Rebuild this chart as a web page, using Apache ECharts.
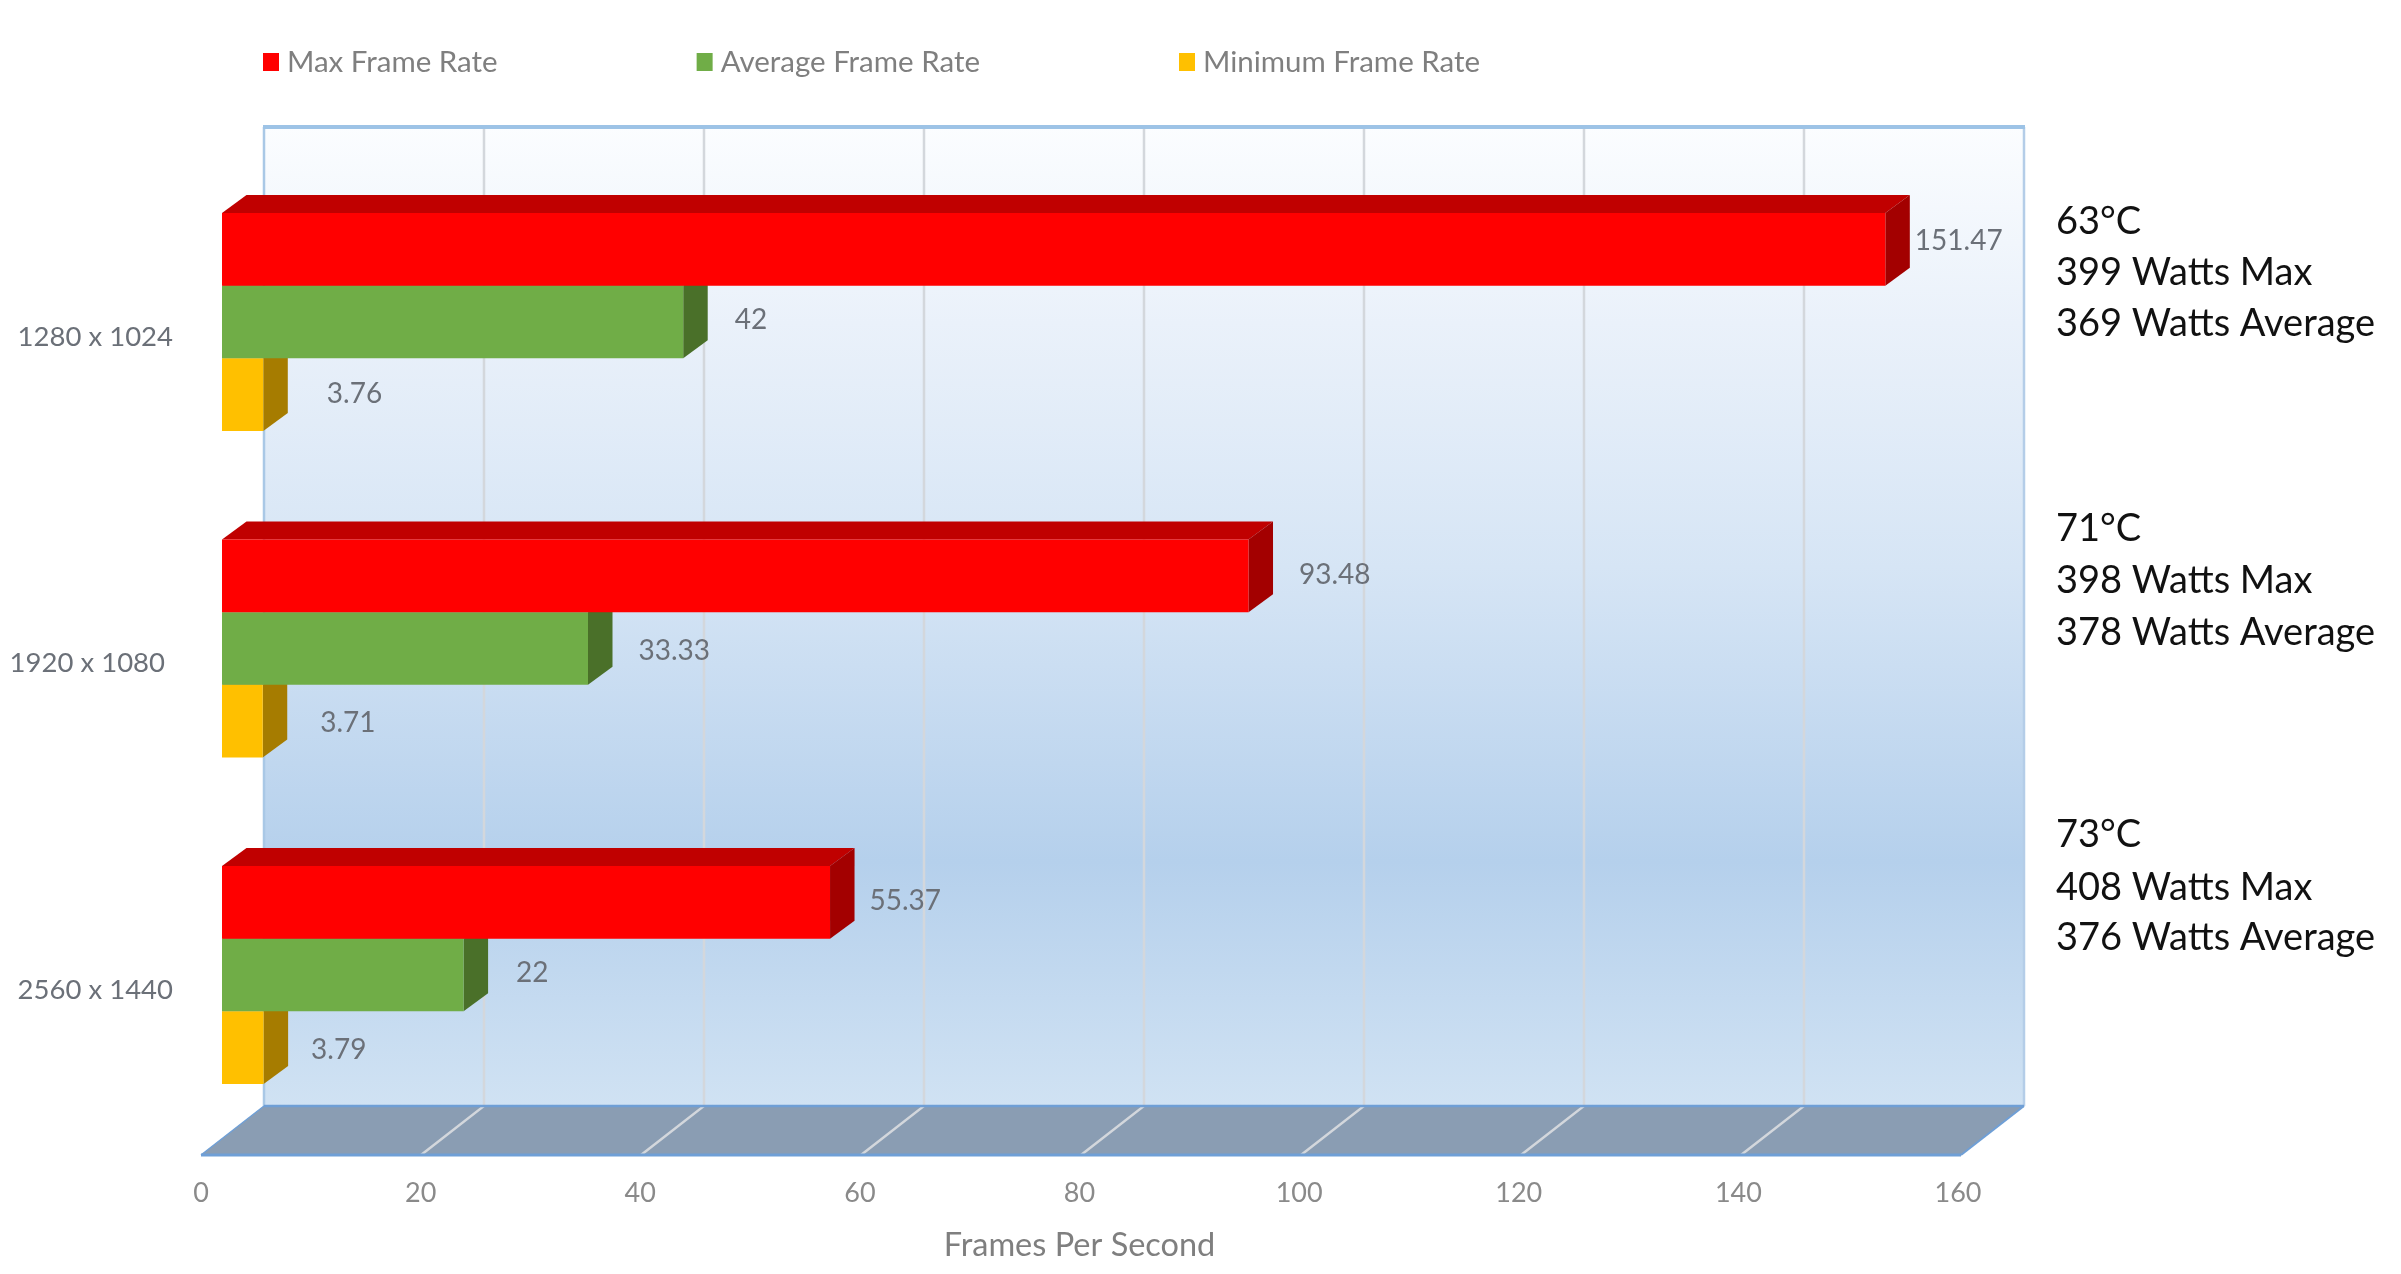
<!DOCTYPE html>
<html>
<head>
<meta charset="utf-8">
<style>html,body{margin:0;padding:0;background:#fff}#c{width:2401px;height:1274px;filter:blur(0.6px)}</style>
<script src="https://cdn.jsdelivr.net/npm/echarts@6/dist/echarts.min.js"></script>
</head>
<body>
<div id="c"></div>
<script>
const categories = ['1280 x 1024', '1920 x 1080', '2560 x 1440'];
const maxFrameRate = [151.47, 93.48, 55.37];
const averageFrameRate = [42, 33.33, 22];
const minimumFrameRate = [3.76, 3.71, 3.79];
const axisTicks = [0, 20, 40, 60, 80, 100, 120, 140, 160];
const notes = [
  ['63°C', '399 Watts Max', '369 Watts Average'],
  ['71°C', '398 Watts Max', '378 Watts Average'],
  ['73°C', '408 Watts Max', '376 Watts Average']
];

// layout (pixels)
const FONT = 'Lato, "Open Sans", sans-serif';
const G = { left: 201, width: 1757, top: 175.5, bottom: 1155 };
const FLOOR = { right: 1961, dx: 63, dy: 49, wallTop: 127 };
const BAR = { planeX: 21, dx: 24.5, dy: 18, shiftY: -16.75, ratio: 0.2227 };
const noteY = [[222, 273, 324], [529, 581, 633], [835, 888, 938]];
// label placement beside each bar: gap from the bar's side, shift from its centre
const labelGap = {
  max: [[5, -8], [26, -1], [15, -1]],
  avg: [[27, -2], [26, 2], [28, -2]],
  min: [[39, -1], [33, 2], [23, 2]]
};

const C = {
  max: { f: '#ff0000', s: '#a30000', t: '#c00000' },
  avg: { f: '#70ad47', s: '#4a7029', t: '#548235' },
  min: { f: '#ffc000', s: '#a67c00', t: '#bf9000' }
};

function barSeries(name, values, key, slot, z) {
  const col = C[key];
  return {
    type: 'custom', name, z,
    coordinateSystem: 'cartesian2d',
    itemStyle: { color: col.f },
    clip: false,
    encode: { x: 0, y: 1 },
    data: values.map((v, i) => [v, i]),
    renderItem(params, api) {
      const idx = api.value(1);
      const zero = api.coord([0, idx]);
      const end = api.coord([api.value(0), idx]);
      const h = api.size([0, 1])[1] * BAR.ratio;
      const x0 = zero[0] + BAR.planeX;
      const x1 = end[0] + BAR.planeX;
      const y0 = zero[1] + BAR.shiftY + (slot - 1.5) * h;
      const y1 = y0 + h;
      const g = labelGap[key][idx];
      return {
        type: 'group',
        children: [
          { type: 'polygon', shape: { points: [[x0, y0], [x0 + BAR.dx, y0 - BAR.dy], [x1 + BAR.dx, y0 - BAR.dy], [x1, y0]] }, style: { fill: col.t } },
          { type: 'polygon', shape: { points: [[x1, y0], [x1 + BAR.dx, y0 - BAR.dy], [x1 + BAR.dx, y1 - BAR.dy], [x1, y1]] }, style: { fill: col.s } },
          { type: 'rect', shape: { x: x0, y: y0, width: x1 - x0, height: h }, style: { fill: col.f } },
          { type: 'text', z2: 10, style: {
              x: x1 + BAR.dx + g[0], y: (y0 + y1) / 2 + g[1],
              text: String(api.value(0)), fill: '#6b7078',
              font: '28px ' + FONT, align: 'left', verticalAlign: 'middle' } }
        ]
      };
    }
  };
}

const backdrop = {
  type: 'custom', z: 1, silent: true, clip: false,
  coordinateSystem: 'cartesian2d',
  encode: { x: 0, y: 1 },
  data: [[0, 0]],
  renderItem(params, api) {
    const cs = params.coordSys;
    const yF = cs.y + cs.height, yB = yF - FLOOR.dy;
    const xF0 = cs.x, xF1 = FLOOR.right;
    const xB0 = xF0 + FLOOR.dx, xB1 = xF1 + FLOOR.dx;
    const kids = [
      { type: 'rect', shape: { x: xB0, y: FLOOR.wallTop, width: xB1 - xB0, height: yB - FLOOR.wallTop },
        style: { fill: new echarts.graphic.LinearGradient(0, 0, 0, 1, [
          { offset: 0, color: '#fbfdff' },
          { offset: 0.2, color: '#eaf1fa' },
          { offset: 0.45, color: '#d6e5f5' },
          { offset: 0.75, color: '#b5d0ec' },
          { offset: 1, color: '#d0e2f3' }]) } },
      { type: 'polygon', shape: { points: [[xF0, yF], [xB0, yB], [xB1, yB], [xF1, yF]] }, style: { fill: '#8a9db3' } }
    ];
    axisTicks.slice(1, -1).forEach(t => {
      const frac = (api.coord([t, 0])[0] - cs.x) / cs.width;
      const xf = xF0 + frac * (xF1 - xF0);
      const xb = xf + FLOOR.dx;
      kids.push({ type: 'polyline', shape: { points: [[xb, FLOOR.wallTop], [xb, yB], [xf, yF]] },
        style: { fill: 'none', stroke: '#d3d7dc', lineWidth: 2.5 } });
    });
    const edge = (pts, stroke, lineWidth) => ({ type: 'polyline', shape: { points: pts }, style: { fill: 'none', stroke, lineWidth } });
    kids.push(edge([[xB0, FLOOR.wallTop], [xB0, yB]], '#a9c8e6', 2.5));
    kids.push(edge([[xB1, FLOOR.wallTop], [xB1, yB]], '#b4cde8', 2.5));
    kids.push(edge([[xB0 - 1, FLOOR.wallTop], [xB1 + 1, FLOOR.wallTop]], '#9dc3e6', 4));
    kids.push(edge([[xB0, yB], [xB1, yB]], '#6f9fd6', 2.5));
    kids.push(edge([[xF0, yF], [xF1, yF]], '#6f9fd6', 3));
    kids.push(edge([[xF0, yF], [xB0, yB]], '#6f9fd6', 1.5));
    kids.push(edge([[xF1, yF], [xB1, yB]], '#6f9fd6', 2));
    return { type: 'group', children: kids };
  }
};

const noteGraphics = [];
notes.forEach((block, b) => block.forEach((line, l) => {
  noteGraphics.push({ type: 'text', left: 2056, top: noteY[b][l] - 19,
    style: { text: line, fill: '#111', font: '38px ' + FONT } });
}));

const chart = echarts.init(document.getElementById('c'), null, { renderer: 'canvas' });
chart.setOption({
  animation: false,
  backgroundColor: '#fff',
  textStyle: { fontFamily: FONT },
  legend: {
    left: 258, top: 42, itemGap: 199, itemWidth: 16, itemHeight: 18,
    icon: 'rect',
    data: ['Max Frame Rate', 'Average Frame Rate', 'Minimum Frame Rate'],
    textStyle: { color: '#7f7f7f', fontSize: 29.5, fontFamily: FONT, padding: [0, 0, 0, 3] }
  },
  grid: { left: G.left, width: G.width, top: G.top, height: G.bottom - G.top },
  xAxis: {
    type: 'value', min: 0, max: 160, interval: 20,
    name: 'Frames Per Second', nameLocation: 'middle', nameGap: 74,
    nameTextStyle: { color: '#7f7f7f', fontSize: 32.5, fontFamily: FONT },
    axisLine: { show: false }, axisTick: { show: false }, splitLine: { show: false },
    axisLabel: { color: '#8a8a8a', fontSize: 27, margin: 25, fontFamily: FONT,
      customValues: axisTicks }
  },
  yAxis: {
    type: 'category', inverse: true, data: categories,
    axisLine: { show: false }, axisTick: { show: false }, splitLine: { show: false },
    axisLabel: {
      margin: 28, color: '#6b7078', fontSize: 27.5, fontFamily: FONT,
      formatter: (v, i) => i === 1 ? '{s|' + v + '}' : '{n|' + v + '}',
      rich: {
        n: { fontSize: 27.5, color: '#6b7078', fontFamily: FONT, padding: [0, 0, 4, 0] },
        s: { fontSize: 27.5, color: '#6b7078', fontFamily: FONT, padding: [0, 8, 4, 0] }
      }
    }
  },
  graphic: noteGraphics,
  series: [
    backdrop,
    barSeries('Max Frame Rate', maxFrameRate, 'max', 0, 5),
    barSeries('Average Frame Rate', averageFrameRate, 'avg', 1, 4),
    barSeries('Minimum Frame Rate', minimumFrameRate, 'min', 2, 3)
  ]
});
</script>
</body>
</html>
